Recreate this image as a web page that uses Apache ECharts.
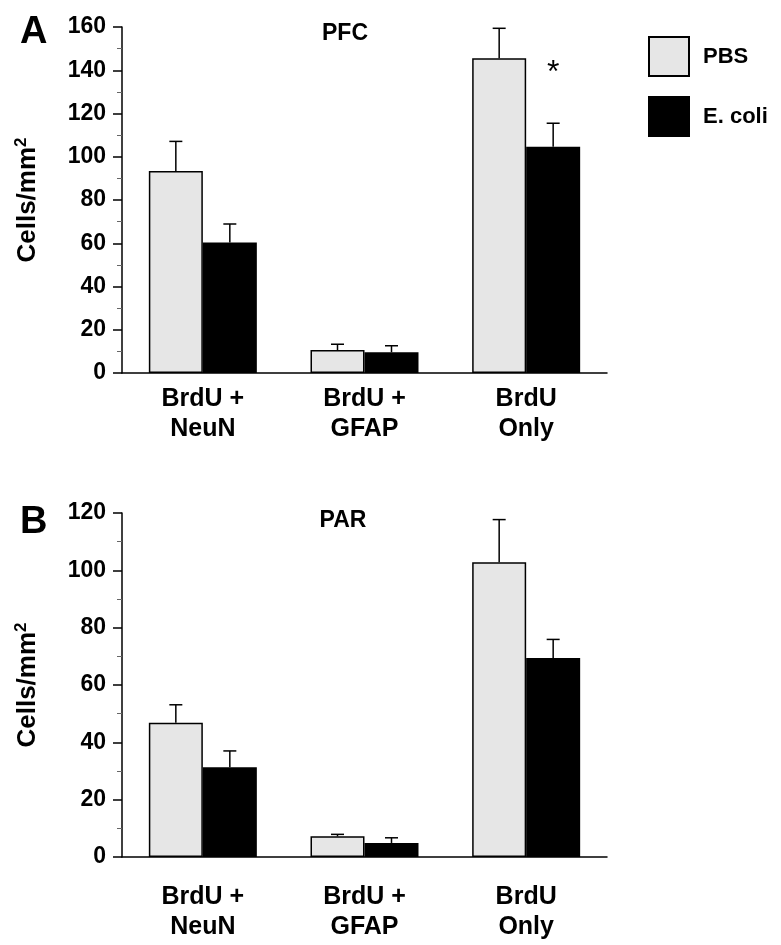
<!DOCTYPE html>
<html>
<head>
<meta charset="utf-8">
<script src="https://cdn.jsdelivr.net/npm/echarts@6/dist/echarts.min.js"></script>
<style>
  html, body { margin: 0; background: #fff; }
  #chart { width: 781px; height: 945px; }
</style>
</head>
<body>
<div id="chart"></div>
<script>
// data
const categories = ['BrdU +\nNeuN', 'BrdU +\nGFAP', 'BrdU\nOnly'];
const seriesNames = ['PBS', 'E. coli'];

// A: PFC
const pfcPbs = [93.4, 10.6, 145.5];
const pfcPbsSem = [13.7, 2.7, 13.9];
const pfcEcoli = [60.4, 9.6, 104.6];
const pfcEcoliSem = [8.5, 3.0, 10.9];
const pfcStar = [null, null, 142];

// B: PAR
const parPbs = [46.8, 7.2, 102.8];
const parPbsSem = [6.3, 0.7, 14.9];
const parEcoli = [31.3, 4.9, 69.4];
const parEcoliSem = [5.7, 1.8, 6.5];

const pfcMax = 160;
const parMax = 120;
const yStep = 20;

const FONT = 'Liberation Sans, Arial, sans-serif';
const BAR_FRAC = 0.334;

const chart = echarts.init(document.getElementById('chart'));

function errRender(side) {
  return function (params, api) {
    const cat = api.value(0);
    const v = api.value(1);
    const e = api.value(2);
    const base = api.coord([cat, v]);
    const top = api.coord([cat, v + e]);
    const band = api.size([1, 0])[0];
    const x = base[0] + side * band * BAR_FRAC / 2;
    const st = { stroke: '#000', lineWidth: 1.5 };
    return {
      type: 'group',
      children: [
        { type: 'line', shape: { x1: x, y1: base[1], x2: x, y2: top[1] }, style: st },
        { type: 'line', shape: { x1: x - 6.5, y1: top[1], x2: x + 6.5, y2: top[1] }, style: st }
      ]
    };
  };
}

function starRender(params, api) {
  const p = api.coord([api.value(0), api.value(1)]);
  const band = api.size([1, 0])[0];
  return {
    type: 'text',
    style: {
      text: '*', x: p[0] + band * BAR_FRAC / 2, y: p[1] + 7,
      align: 'center', verticalAlign: 'middle',
      font: '32px ' + FONT, fill: '#000'
    }
  };
}

function yAxis(idx, max) {
  return {
    type: 'value', gridIndex: idx, min: 0, max: max, interval: yStep,
    axisLine: { show: true, lineStyle: { color: '#000', width: 1.5 } },
    axisTick: { show: true, length: 9, lineStyle: { color: '#000', width: 1.5 } },
    minorTick: { show: true, splitNumber: 2, length: 5, lineStyle: { color: '#666', width: 1 } },
    splitLine: { show: false },
    axisLabel: { color: '#000', fontFamily: FONT, fontSize: 23, fontWeight: 'bold', margin: 16 },
    name: '{a|Cells/mm}{s|2}', nameLocation: 'middle', nameGap: 80,
    nameTextStyle: {
      color: '#000', fontFamily: FONT, fontSize: 26, fontWeight: 'bold',
      rich: {
        a: { color: '#000', fontFamily: FONT, fontSize: 26, fontWeight: 'bold' },
        s: { color: '#000', fontFamily: FONT, fontSize: 17, fontWeight: 'bold', padding: [0, 0, 12, 0] }
      }
    }
  };
}

function xAxis(idx, margin) {
  return {
    type: 'category', gridIndex: idx, data: categories,
    axisLine: { lineStyle: { color: '#000', width: 1.5 } },
    axisTick: { show: false },
    axisLabel: { color: '#000', fontFamily: FONT, fontSize: 25, fontWeight: 'bold', lineHeight: 30, margin: margin }
  };
}

function bars(idx, pbs, ecoli) {
  return [
    {
      name: 'PBS', type: 'bar', xAxisIndex: idx, yAxisIndex: idx, data: pbs,
      barWidth: (BAR_FRAC * 100) + '%', barGap: '0%',
      itemStyle: { color: '#e6e6e6', borderColor: '#000', borderWidth: 1.5 }
    },
    {
      name: 'E. coli', type: 'bar', xAxisIndex: idx, yAxisIndex: idx, data: ecoli,
      barWidth: (BAR_FRAC * 100) + '%', barGap: '0%',
      itemStyle: { color: '#000', borderColor: '#000', borderWidth: 1.5 }
    }
  ];
}

function errs(idx, vals, sem, side) {
  return {
    type: 'custom', xAxisIndex: idx, yAxisIndex: idx, z: 5,
    renderItem: errRender(side),
    encode: { x: 0, y: 1 },
    data: vals.map((v, i) => [i, v, sem[i]])
  };
}

chart.setOption({
  animation: false,
  backgroundColor: '#fff',
  grid: [
    { left: 122, right: 174, top: 27, height: 346 },
    { left: 122, right: 174, top: 513, height: 344 }
  ],
  legend: {
    data: seriesNames, orient: 'vertical', left: 643, top: 31,
    icon: 'rect', itemWidth: 40, itemHeight: 39, itemGap: 19,
    textStyle: { color: '#000', fontFamily: FONT, fontSize: 22, fontWeight: 'bold', padding: [0, 0, 0, 9] }
  },
  xAxis: [xAxis(0, 11), xAxis(1, 25)],
  yAxis: [yAxis(0, pfcMax), yAxis(1, parMax)],
  series: [
    ...bars(0, pfcPbs, pfcEcoli),
    ...bars(1, parPbs, parEcoli),
    errs(0, pfcPbs, pfcPbsSem, -1),
    errs(0, pfcEcoli, pfcEcoliSem, 1),
    errs(1, parPbs, parPbsSem, -1),
    errs(1, parEcoli, parEcoliSem, 1),
    {
      type: 'custom', xAxisIndex: 0, yAxisIndex: 0, z: 6,
      renderItem: starRender, encode: { x: 0, y: 1 },
      data: pfcStar.map((v, i) => [i, v]).filter(d => d[1] != null)
    }
  ],
  graphic: [
    { type: 'text', left: 20, top: 14, style: { text: 'A', font: 'bold 38px ' + FONT, fill: '#000' } },
    { type: 'text', left: 20, top: 504, style: { text: 'B', font: 'bold 38px ' + FONT, fill: '#000' } },
    { type: 'text', x: 345, y: 34, style: { text: 'PFC', font: 'bold 23px ' + FONT, fill: '#000', align: 'center', verticalAlign: 'middle' } },
    { type: 'text', x: 343, y: 521, style: { text: 'PAR', font: 'bold 23px ' + FONT, fill: '#000', align: 'center', verticalAlign: 'middle' } }
  ]
});
</script>
</body>
</html>
